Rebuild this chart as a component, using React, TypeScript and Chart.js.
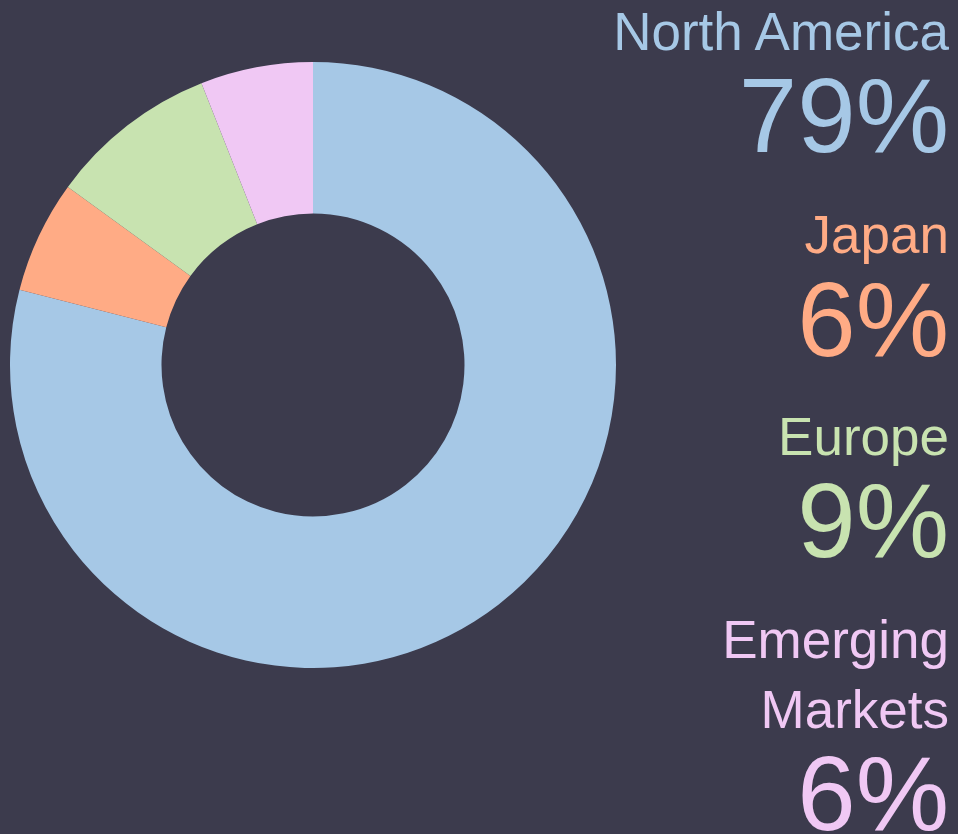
import React, { useEffect, useRef } from "react";
import { Chart, registerables } from "chart.js";

Chart.register(...registerables);

const categories = ["North America", "Japan", "Europe", "Emerging Markets"];
const values = [79, 6, 9, 6];
const labelLines = [["North America"], ["Japan"], ["Europe"], ["Emerging", "Markets"]];
const valueLabels = ["79%", "6%", "9%", "6%"];
const colors = ["#a6c8e6", "#ffab85", "#c8e3b0", "#f0c8f4"];

const BG = "#3c3b4d";
const FONT = '"Liberation Sans", Arial, Helvetica, sans-serif';

// baselines (px) for each text line
const labelBaselines = [[50], [253], [455], [658, 728]];
const valueBaselines = [152, 356, 557, 830];
const LABEL_SIZE = 53;
const VALUE_SIZE = 105;

export default function App() {
  const canvasRef = useRef<HTMLCanvasElement | null>(null);

  useEffect(() => {
    document.body.style.margin = "0";
    document.body.style.background = BG;
    const canvas = canvasRef.current;
    if (!canvas) return;
    const chart = new Chart(canvas, {
      type: "doughnut",
      data: {
        labels: categories,
        datasets: [
          {
            data: values,
            backgroundColor: colors,
            borderWidth: 0,
          },
        ],
      },
      options: {
        responsive: false,
        animation: false,
        cutout: "50%",
        layout: { padding: 0 },
        plugins: {
          legend: { display: false },
          tooltip: { enabled: false },
        },
      },
    });
    return () => chart.destroy();
  }, []);

  const labelTop = (b: number) => b - (LABEL_SIZE * 0.905 - (LABEL_SIZE * 1.117 - LABEL_SIZE) / 2);
  const valueTop = (b: number) => b - (VALUE_SIZE * 0.905 - (VALUE_SIZE * 1.117 - VALUE_SIZE) / 2);

  const texts: React.ReactNode[] = [];
  categories.forEach((c, i) => {
    labelLines[i].forEach((line, j) => {
      texts.push(
        <div
          key={`l-${i}-${j}`}
          style={{
            position: "absolute",
            right: 9,
            top: labelTop(labelBaselines[i][j]),
            fontSize: LABEL_SIZE,
            lineHeight: `${LABEL_SIZE}px`,
            color: colors[i],
            fontFamily: FONT,
            whiteSpace: "nowrap",
            textAlign: "right",
          }}
        >
          {line}
        </div>
      );
    });
    texts.push(
      <div
        key={`v-${i}`}
        style={{
          position: "absolute",
          right: 9,
          top: valueTop(valueBaselines[i]),
          fontSize: VALUE_SIZE,
          lineHeight: `${VALUE_SIZE}px`,
          color: colors[i],
          fontFamily: FONT,
          whiteSpace: "nowrap",
          textAlign: "right",
        }}
      >
        {valueLabels[i]}
      </div>
    );
  });

  return (
    <div
      style={{
        position: "relative",
        width: 958,
        height: 834,
        background: BG,
        overflow: "hidden",
      }}
    >
      <canvas
        ref={canvasRef}
        width={606}
        height={606}
        style={{ position: "absolute", left: 10, top: 62, width: 606, height: 606 }}
      />
      {texts}
    </div>
  );
}
